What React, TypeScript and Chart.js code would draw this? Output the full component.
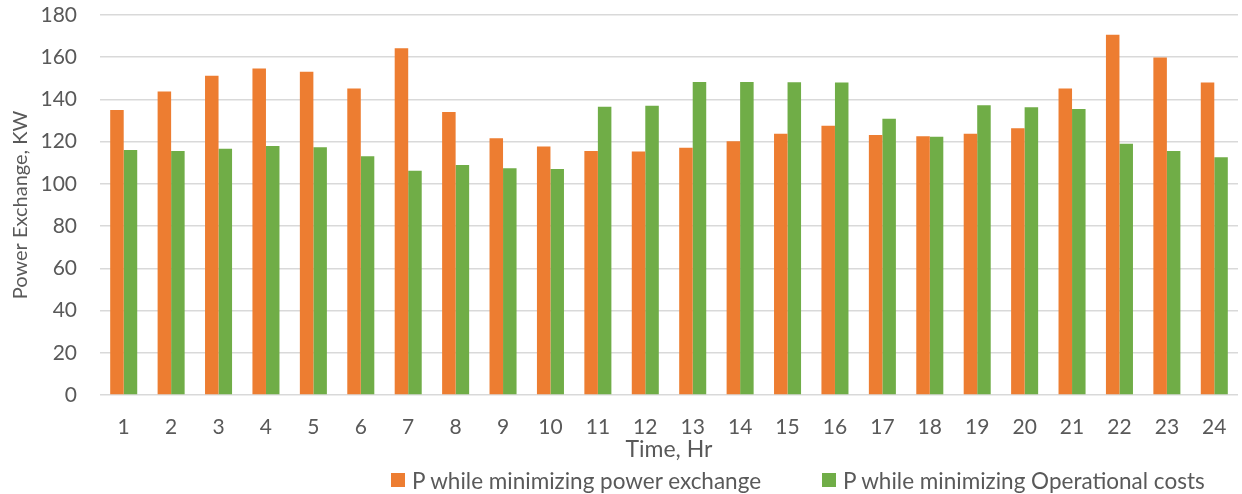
import React, { useEffect, useRef } from "react";
import { Chart, registerables } from "chart.js";

Chart.register(...registerables);

const hours: string[] = [
  "1", "2", "3", "4", "5", "6", "7", "8", "9", "10", "11", "12",
  "13", "14", "15", "16", "17", "18", "19", "20", "21", "22", "23", "24",
];

const minPowerExchange: number[] = [
  135, 143.8, 151.2, 154.7, 153.1, 145.2, 164.3, 134, 121.6, 117.7, 115.6, 115.3,
  117.1, 120.2, 123.7, 127.5, 123.1, 122.6, 123.8, 126.4, 145.2, 170.6, 159.9, 148,
];

const minOperationalCosts: number[] = [
  116.1, 115.6, 116.6, 117.9, 117.4, 113.1, 106.2, 109, 107.4, 107.1, 136.5, 137,
  148.3, 148.3, 148.2, 148, 130.8, 122.3, 137.3, 136.3, 135.5, 119, 115.6, 112.6,
];

const seriesNames: string[] = [
  "P while minimizing power exchange",
  "P while minimizing Operational costs",
];

const yMin = 0;
const yMax = 180;
const yStep = 20;

const orange = "#ED7D31";
const green = "#70AD47";
const textColor = "#595959";
const gridColor = "#D9D9D9";
const fontFamily = "Lato, 'Open Sans', sans-serif";

export default function App() {
  const canvasRef = useRef<HTMLCanvasElement | null>(null);

  useEffect(() => {
    if (!canvasRef.current) return;
    const chart = new Chart(canvasRef.current, {
      type: "bar",
      data: {
        labels: hours,
        datasets: [
          {
            label: seriesNames[0],
            data: minPowerExchange,
            backgroundColor: orange,
            borderWidth: 0,
          },
          {
            label: seriesNames[1],
            data: minOperationalCosts,
            backgroundColor: green,
            borderWidth: 0,
          },
        ],
      },
      options: {
        responsive: false,
        animation: false,
        devicePixelRatio: 1,
        datasets: {
          bar: { categoryPercentage: 0.57, barPercentage: 1 },
        },
        layout: { padding: { top: 15, right: 4, bottom: 30, left: 0 } },
        plugins: {
          legend: { display: false },
          tooltip: { enabled: false },
        },
        scales: {
          x: {
            grid: { display: false },
            border: { display: false },
            ticks: {
              color: textColor,
              font: { family: fontFamily, size: 21 },
              padding: 12,
              maxRotation: 0,
            },
            title: {
              display: true,
              text: "Time, Hr",
              color: textColor,
              font: { family: fontFamily, size: 23 },
              padding: { top: 0, bottom: 1 },
            },
            afterFit: (scale: any) => {
              scale.height = 494 - 395 - 30;
            },
          },
          y: {
            min: yMin,
            max: yMax,
            ticks: {
              stepSize: yStep,
              color: textColor,
              font: { family: fontFamily, size: 21 },
              padding: 23,
            },
            grid: { color: gridColor, lineWidth: 1.5, drawTicks: false },
            border: { display: false },
            title: {
              display: true,
              text: "Power Exchange, KW",
              color: textColor,
              font: { family: fontFamily, size: 20 },
              padding: { top: 9, bottom: 0 },
            },
            afterFit: (scale: any) => {
              scale.width = 100;
              scale.paddingTop = 12;
              scale.paddingBottom = 0;
            },
          },
        },
      },
    });
    return () => chart.destroy();
  }, []);

  const legendItem = (color: string, text: string, left: number) => (
    <div
      style={{
        position: "absolute",
        left,
        top: 466,
        height: 28,
        display: "flex",
        alignItems: "center",
        fontFamily,
        fontSize: 22.5,
        color: textColor,
        whiteSpace: "nowrap",
      }}
    >
      <span
        style={{
          display: "inline-block",
          width: 14,
          height: 14,
          background: color,
          marginRight: 7,
        }}
      />
      <span>{text}</span>
    </div>
  );

  return (
    <div
      style={{
        position: "fixed",
        left: 0,
        top: 0,
        width: 1242,
        height: 494,
        background: "#fff",
      }}
    >
      <canvas ref={canvasRef} width={1242} height={494} style={{ display: "block" }} />
      {legendItem(orange, seriesNames[0], 391)}
      {legendItem(green, seriesNames[1], 822)}
    </div>
  );
}
